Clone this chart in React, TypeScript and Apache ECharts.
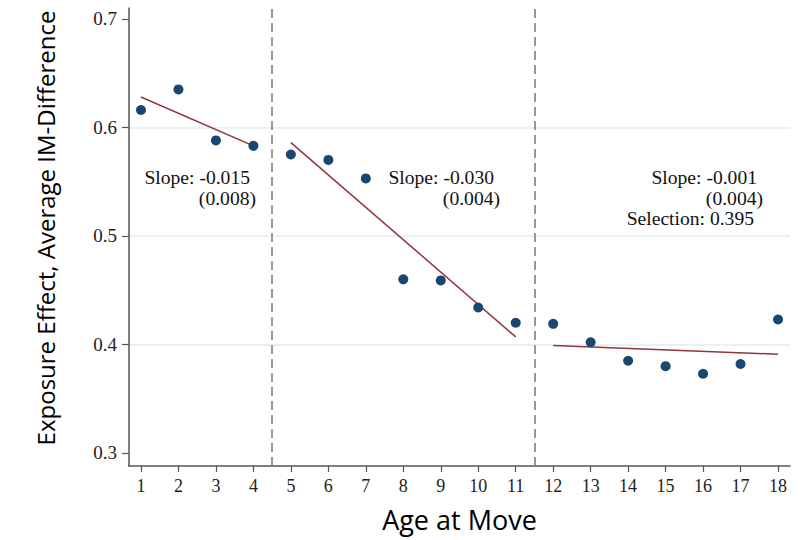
import React, { useEffect, useRef } from "react";
import * as echarts from "echarts";

const ages = [1, 2, 3, 4, 5, 6, 7, 8, 9, 10, 11, 12, 13, 14, 15, 16, 17, 18];
const effects = [0.616, 0.635, 0.588, 0.583, 0.575, 0.570, 0.553, 0.460, 0.459, 0.434, 0.420, 0.419, 0.402, 0.385, 0.380, 0.373, 0.382, 0.423];
const fit1 = [[1, 0.628], [4, 0.583]];
const fit2 = [[5, 0.586], [11, 0.407]];
const fit3 = [[12, 0.399], [18, 0.391]];
const breaks = [4.5, 11.5];
const yTicks = [0.3, 0.4, 0.5, 0.6, 0.7];
const gridValues = [0.4, 0.5, 0.6];
const notes1 = ["Slope: -0.015", "(0.008)"];
const notes2 = ["Slope: -0.030", "(0.004)"];
const notes3 = ["Slope: -0.001", "(0.004)", "Selection: 0.395"];

const SERIF = "'Liberation Serif', 'DejaVu Serif', serif";
const SANS = "'Open Sans', 'Noto Sans', sans-serif";
const NAVY = "#1a476f";
const MAROON = "#90353b";

export default function App() {
  const ref = useRef<HTMLDivElement>(null);
  useEffect(() => {
    if (!ref.current) return;
    const chart = echarts.init(ref.current, undefined, { renderer: "svg" });
    const fitSeries = [fit1, fit2, fit3].map((d, i) => ({
      type: "line",
      name: "fit" + (i + 1),
      data: d,
      symbol: "none",
      lineStyle: { color: MAROON, width: 1.5 },
      z: 4,
    }));
    const txt = (x: number, y: number, s: string) => ({
      type: "text",
      x,
      y,
      style: {
        text: s,
        font: "19.6px " + SERIF,
        fill: "#111",
        align: "right",
        verticalAlign: "middle",
      },
    });
    chart.setOption({
      animation: false,
      backgroundColor: "#ffffff",
      grid: { left: 129, right: 16, top: 8, bottom: 74, containLabel: false },
      xAxis: {
        type: "value",
        min: 0.68,
        max: 18.32,
        name: "Age at Move",
        nameLocation: "middle",
        nameGap: 40,
        nameTextStyle: { fontFamily: SANS, fontSize: 27, color: "#000" },
        axisLine: { show: true, lineStyle: { color: "#555", width: 1.5 } },
        axisTick: { show: true, length: 6, lineStyle: { color: "#555", width: 1.2 }, customValues: ages },
        axisLabel: {
          customValues: ages,
          margin: 11,
          fontFamily: SERIF,
          fontSize: 18,
          color: "#222",
        },
        splitLine: { show: false },
      },
      yAxis: {
        type: "value",
        min: 0.288,
        max: 0.71,
        name: "Exposure Effect, Average IM-Difference",
        nameLocation: "middle",
        nameGap: 72,
        nameTextStyle: { fontFamily: SANS, fontSize: 24, color: "#000", padding: [0, 0, 0, 18] },
        axisLine: { show: true, lineStyle: { color: "#555", width: 1.5 } },
        axisTick: { show: true, length: 7, lineStyle: { color: "#555", width: 1.2 }, customValues: yTicks },
        axisLabel: {
          customValues: yTicks,
          margin: 12,
          fontFamily: SERIF,
          fontSize: 19,
          color: "#222",
          formatter: (v: number) => v.toFixed(1),
        },
        splitLine: { show: false },
      },
      series: [
        {
          type: "line",
          name: "grid",
          data: [],
          silent: true,
          z: 0,
          markLine: {
            silent: true,
            symbol: "none",
            z: 0,
            label: { show: false },
            animation: false,
            data: gridValues.map((v) => ({ yAxis: v, lineStyle: { color: "#e2edf3", width: 1.5, type: "solid" } })),
          },
        },
        {
          type: "line",
          name: "breaks",
          data: [],
          silent: true,
          z: 1,
          markLine: {
            silent: true,
            symbol: "none",
            z: 1,
            label: { show: false },
            animation: false,
            data: breaks.map((b) => ({ xAxis: b, lineStyle: { color: "#777", width: 1.5, type: [9, 5] } })),
          },
        },
        ...fitSeries,
        {
          type: "scatter",
          name: "effects",
          data: ages.map((a, i) => [a, effects[i]]),
          symbol: "circle",
          symbolSize: 10,
          itemStyle: { color: NAVY, opacity: 1 },
          z: 5,
        },
      ],
      graphic: [
        txt(250, 177, notes1[0]),
        txt(256, 198, notes1[1]),
        txt(494, 177, notes2[0]),
        txt(500, 198, notes2[1]),
        txt(757, 177, notes3[0]),
        txt(763, 198, notes3[1]),
        txt(754, 218, notes3[2]),
      ],
    });
    return () => chart.dispose();
  }, []);
  return (
    <div
      ref={ref}
      style={{ position: "fixed", left: 0, top: 0, width: 806, height: 540 }}
    />
  );
}
